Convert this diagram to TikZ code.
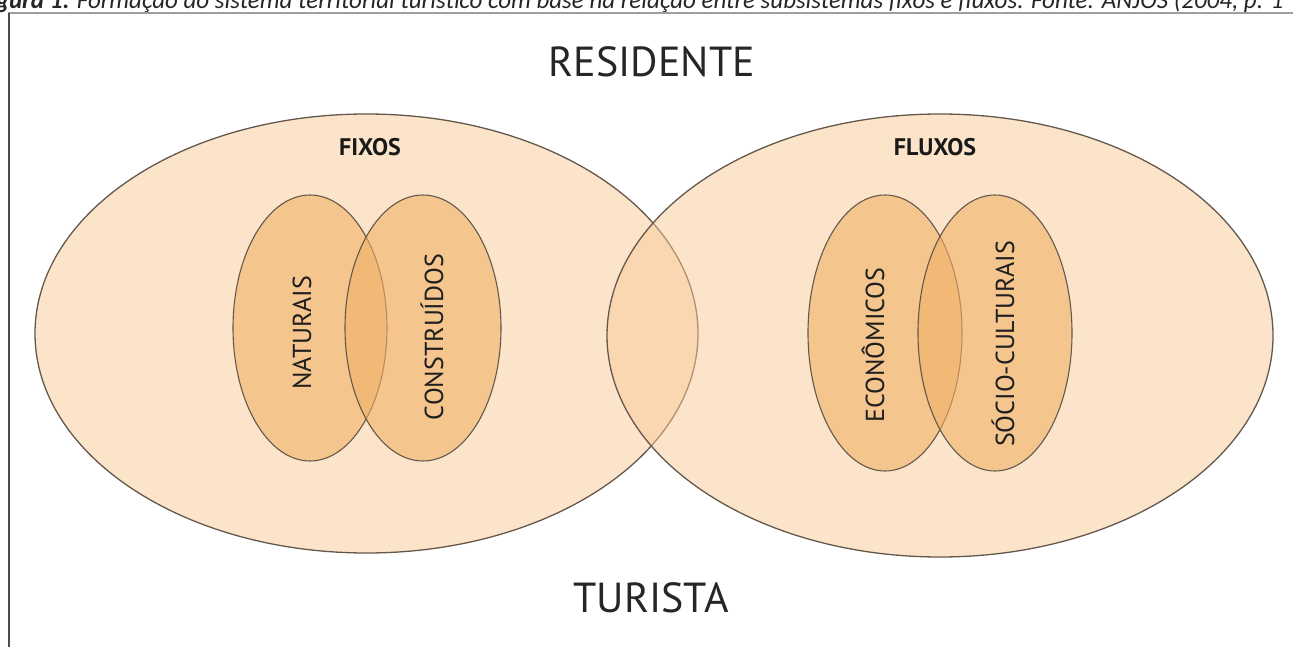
\documentclass[tikz,border=0pt]{standalone}
\usepackage{fontspec}
\setmainfont{PT Sans}
\newfontfamily\capfont{Carlito}
\usetikzlibrary{shapes.geometric}
\definecolor{outerfill}{RGB}{248,202,150}
\definecolor{innerfill}{RGB}{241,176,103}
\definecolor{edge}{RGB}{100,88,76}
\begin{document}
\begin{tikzpicture}[x=1pt,y=-1pt,
  bigell/.style={ellipse, draw=edge, line width=1.3pt, fill=outerfill, fill opacity=0.5, draw opacity=1, inner sep=0pt, outer sep=0pt},
  smallell/.style={ellipse, draw=edge, line width=1.1pt, fill=innerfill, fill opacity=0.6, draw opacity=1, inner sep=0pt, outer sep=0pt},
  bigtxt/.style={font=\fontsize{42}{42}\selectfont, text=black!85, inner sep=0pt},
  headtxt/.style={font=\fontsize{24}{24}\selectfont\bfseries, text=black!90, inner sep=0pt},
  vtxt/.style={font=\fontsize{26}{26}\selectfont, text=black!88, inner sep=0pt, rotate=90}]
\useasboundingbox (0,0) rectangle (1293,647);
\clip (0,0) rectangle (1293,647);
% caption
\node[anchor=base west, inner sep=0pt, font=\capfont\fontsize{25}{25}\selectfont\itshape, text=black!85] (cap) at (-22,9)
  {\textbf{Figura 1:} Formação do sistema territorial turístico com base na relação entre subsistemas fixos e fluxos. Fonte: ANJOS (2004, p. 1};
% frame
\draw[gray!75, line width=2pt] (8,13) -- (1293,13);
\draw[black!70, line width=2.5pt] (9,13) -- (9,647);
% big ellipses
\node[bigell, minimum width=663pt, minimum height=439pt] (fixos) at (366.5,333.5) {};
\node[bigell, minimum width=666pt, minimum height=443pt] (fluxos) at (940,335.5) {};
% small ellipses
\node[smallell, minimum width=154pt, minimum height=266pt] (nat) at (310,328) {};
\node[smallell, minimum width=156pt, minimum height=266pt] (con) at (423,328) {};
\node[smallell, minimum width=154pt, minimum height=276pt] (eco) at (885,333) {};
\node[smallell, minimum width=154pt, minimum height=276pt] (soc) at (995,333) {};
% labels
\node[bigtxt] (res) at (652,62) {RESIDENTE};
\node[bigtxt] (tur) at (651,598) {TURISTA};
\node[headtxt] (lfix) at (370,147) {FIXOS};
\node[headtxt] (lflu) at (935,147) {FLUXOS};
\node[vtxt] (lnat) at (302,333) {NATURAIS};
\node[vtxt] (lcon) at (432,337) {CONSTRUÍDOS};
\node[vtxt] (leco) at (873,345) {ECONÔMICOS};
\node[vtxt] (lsoc) at (1003,344) {SÓCIO-CULTURAIS};
\end{tikzpicture}
\end{document}
